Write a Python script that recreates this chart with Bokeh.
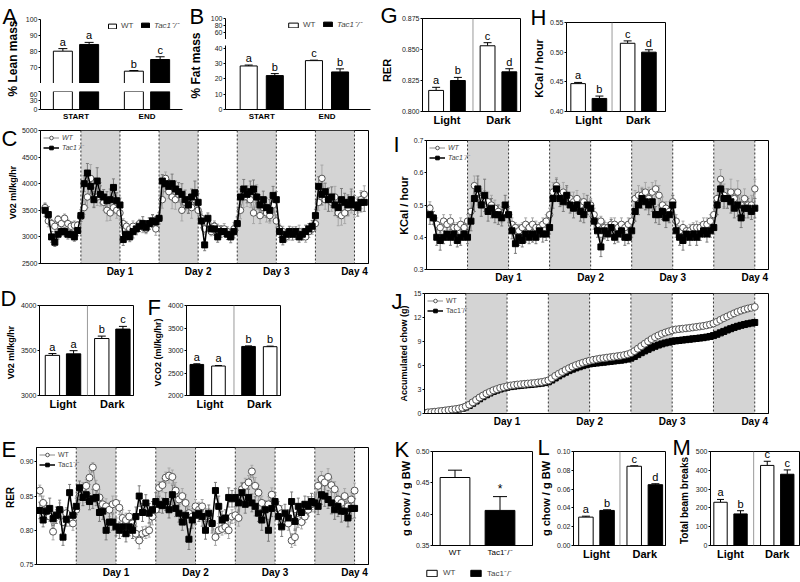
import math
from bokeh.plotting import figure
from bokeh.models import (Range1d, FixedTicker, PrintfTickFormatter, Whisker, TeeHead,
                          ColumnDataSource, Label, Span, BoxAnnotation, Legend, LegendItem, Spacer)
from bokeh.layouts import row, column
from bokeh.embed import file_html
from bokeh.resources import INLINE
from bokeh.core.properties import value

FONT = "Liberation Sans"
TAC = "Tac1\u207b/\u207b"

# ---------------- data ----------------
ab_groups = ["START", "END"]
A_wt = [80.2, 67.7]; A_wt_err = [1.6, 0.4]; A_wt_sig = ["a", "b"]
A_tac = [84.4, 75.0]; A_tac_err = [1.3, 1.7]; A_tac_sig = ["a", "c"]
B_wt = [28.5, 32.0]; B_wt_err = [0.6, 0.3]; B_wt_sig = ["a", "c"]
B_tac = [22.2, 24.6]; B_tac_err = [1.3, 2.0]; B_tac_sig = ["b", "b"]

ld_groups = ["Light", "Dark"]
G_wt = [0.817, 0.853]; G_wt_err = [0.0025, 0.0025]; G_wt_sig = ["a", "c"]
G_tac = [0.825, 0.832]; G_tac_err = [0.0025, 0.0025]; G_tac_sig = ["b", "d"]
H_wt = [0.447, 0.515]; H_wt_err = [0.002, 0.004]; H_wt_sig = ["a", "c"]
H_tac = [0.422, 0.500]; H_tac_err = [0.004, 0.004]; H_tac_sig = ["b", "d"]
D_wt = [3446, 3633]; D_wt_err = [20, 27]; D_wt_sig = ["a", "b"]
D_tac = [3463, 3738]; D_tac_err = [35, 30]; D_tac_sig = ["a", "c"]
F_black = [2690, 3090]; F_black_err = [15, 12]; F_black_sig = ["a", "b"]
F_white = [2655, 3085]; F_white_err = [12, 12]; F_white_sig = ["a", "b"]
K_groups = ["WT", TAC]
K_vals = [0.4585, 0.4060]; K_err = [0.0117, 0.022]; K_sig = ["", "*"]
L_wt = [0.0302, 0.0843]; L_wt_err = [0.001, 0.0005]; L_wt_sig = ["a", "c"]
L_tac = [0.0373, 0.0647]; L_tac_err = [0.0007, 0.001]; L_tac_sig = ["b", "d"]
M_wt = [230, 426]; M_wt_err = [15, 22]; M_wt_sig = ["a", "c"]
M_tac = [168, 379]; M_tac_err = [17, 23]; M_tac_sig = ["b", "c"]

dark_start = [12, 36, 60, 84]
dark_end = [24, 48, 72, 96]
day_ticks = [24, 48, 72, 96]
day_labels = ["Day 1", "Day 2", "Day 3", "Day 4"]

C_hours = list(range(1, 100))
C_wt = [
 3550, 3300, 3250, 3200, 3330, 3250, 3350, 3250, 3200, 3220, 3220, 3380,
 3550, 3750, 4100, 3750, 3750, 3800, 3650, 3500, 3450, 3550, 3500, 3450,
 3250, 3200, 3150, 3200, 3150, 3250, 3200, 3150, 3250, 3300, 3150, 3350,
 3700, 4100, 3850, 3750, 3700, 3800, 3500, 3650, 3600, 3550, 3700, 3500,
 3350, 3150, 3250, 3100, 3200, 3150, 3100, 3150, 3100, 3050, 3150, 3250,
 3500, 3750, 3750, 3700, 3450, 3750, 3400, 3550, 3450, 3400, 3600, 3300,
 3150, 3100, 3000, 3050, 3100, 3050, 3100, 3050, 3000, 3100, 3150, 3250,
 3650, 4100, 3700, 3700, 3650, 3750, 3450, 3400, 3450, 3550, 3650, 3550,
 3600, 3700, 3800]
C_wt_err = [
 90, 110, 80, 100, 70, 90, 80, 70, 90, 80, 70, 90,
 130, 200, 260, 180, 160, 220, 150, 200, 140, 120, 150, 130,
 90, 80, 70, 100, 90, 80, 120, 90, 100, 110, 120, 100,
 160, 120, 130, 220, 180, 150, 200, 160, 140, 200, 150, 170,
 120, 100, 90, 80, 100, 90, 110, 100, 90, 100, 120, 110,
 160, 200, 180, 150, 200, 230, 150, 180, 170, 140, 200, 120,
 90, 100, 80, 110, 90, 100, 120, 90, 100, 110, 100, 120,
 150, 250, 180, 220, 170, 200, 240, 180, 200, 160, 200, 180,
 150, 170, 160]
C_tac = [
 3500, 3420, 3000, 2900, 3050, 3100, 3100, 3050, 3050, 3000, 3120, 3400,
 4000, 4200, 3950, 3700, 4050, 3800, 3750, 3680, 3700, 3930, 3680, 3600,
 2950, 3050, 3000, 3100, 3150, 3200, 3250, 3180, 3250, 3300, 3280, 3350,
 4050, 4000, 3950, 4000, 3900, 3850, 3800, 3700, 3600, 3750, 3830, 3650,
 3300, 2850, 3350, 3150, 3150, 3000, 3100, 3100, 3050, 3000, 3100, 3250,
 3750, 3900, 3800, 3850, 3900, 3750, 3600, 3700, 3550, 3500, 3780, 3700,
 3100, 2950, 3050, 3100, 3050, 3100, 3000, 3050, 3100, 3150, 3200, 3400,
 3950, 3800, 3850, 3700, 3750, 3600, 3550, 3700, 3650, 3600, 3700, 3600,
 3550, 3650, 3650]
C_tac_err = [
 120, 150, 100, 80, 90, 70, 80, 90, 70, 80, 100, 110,
 150, 180, 140, 150, 250, 160, 140, 170, 200, 160, 150, 130,
 110, 100, 90, 120, 110, 100, 130, 100, 110, 120, 100, 110,
 120, 150, 130, 180, 150, 170, 200, 180, 160, 150, 220, 160,
 130, 110, 100, 90, 120, 100, 110, 90, 100, 110, 120, 130,
 150, 180, 160, 200, 170, 190, 150, 160, 180, 200, 170, 150,
 110, 100, 90, 100, 110, 90, 100, 110, 120, 100, 110, 120,
 180, 200, 160, 220, 190, 200, 180, 210, 170, 190, 200, 180,
 160, 180, 170]

I_hours = list(range(1, 97))
I_wt = [
 0.49, 0.46, 0.44, 0.43, 0.45, 0.44, 0.45, 0.43, 0.43, 0.44, 0.43, 0.45,
 0.48, 0.56, 0.54, 0.52, 0.52, 0.51, 0.50, 0.49, 0.48, 0.47, 0.48, 0.47,
 0.44, 0.43, 0.42, 0.43, 0.44, 0.43, 0.44, 0.43, 0.43, 0.44, 0.45, 0.47,
 0.54, 0.56, 0.53, 0.54, 0.53, 0.52, 0.51, 0.52, 0.50, 0.51, 0.49, 0.50,
 0.47, 0.44, 0.45, 0.43, 0.43, 0.44, 0.44, 0.43, 0.44, 0.43, 0.44, 0.45,
 0.52, 0.53, 0.53, 0.54, 0.52, 0.54, 0.55, 0.53, 0.50, 0.49, 0.48, 0.51,
 0.45, 0.42, 0.43, 0.42, 0.42, 0.43, 0.43, 0.43, 0.44, 0.44, 0.45, 0.47,
 0.52, 0.58, 0.53, 0.52, 0.54, 0.52, 0.54, 0.50, 0.52, 0.50, 0.50, 0.55]
I_wt_err = [
 0.02, 0.02, 0.02, 0.015, 0.02, 0.015, 0.02, 0.015, 0.015, 0.02, 0.015, 0.02,
 0.03, 0.03, 0.04, 0.03, 0.025, 0.03, 0.03, 0.025, 0.02, 0.025, 0.02, 0.02,
 0.02, 0.015, 0.02, 0.015, 0.02, 0.015, 0.02, 0.02, 0.015, 0.02, 0.02, 0.02,
 0.03, 0.025, 0.025, 0.03, 0.025, 0.02, 0.03, 0.025, 0.02, 0.025, 0.02, 0.02,
 0.02, 0.02, 0.015, 0.02, 0.015, 0.02, 0.02, 0.015, 0.02, 0.015, 0.02, 0.02,
 0.025, 0.03, 0.025, 0.03, 0.035, 0.03, 0.025, 0.03, 0.025, 0.02, 0.03, 0.02,
 0.02, 0.015, 0.02, 0.015, 0.02, 0.015, 0.02, 0.015, 0.02, 0.02, 0.02, 0.02,
 0.03, 0.03, 0.035, 0.03, 0.04, 0.03, 0.035, 0.03, 0.03, 0.025, 0.03, 0.03]
I_tac = [
 0.47, 0.46, 0.40, 0.39, 0.40, 0.41, 0.40, 0.41, 0.39, 0.40, 0.41, 0.40,
 0.45, 0.52, 0.55, 0.50, 0.53, 0.48, 0.49, 0.47, 0.47, 0.46, 0.50, 0.47,
 0.42, 0.38, 0.40, 0.39, 0.41, 0.40, 0.41, 0.40, 0.42, 0.41, 0.41, 0.43,
 0.52, 0.55, 0.52, 0.51, 0.53, 0.50, 0.49, 0.50, 0.48, 0.47, 0.50, 0.49,
 0.45, 0.42, 0.37, 0.42, 0.41, 0.43, 0.40, 0.41, 0.42, 0.40, 0.40, 0.42,
 0.48, 0.50, 0.52, 0.51, 0.50, 0.51, 0.47, 0.47, 0.48, 0.46, 0.47, 0.50,
 0.42, 0.40, 0.39, 0.41, 0.40, 0.41, 0.40, 0.41, 0.42, 0.41, 0.42, 0.43,
 0.50, 0.55, 0.52, 0.52, 0.51, 0.49, 0.50, 0.46, 0.49, 0.49, 0.48, 0.49]
I_tac_err = [
 0.03, 0.02, 0.025, 0.03, 0.02, 0.02, 0.025, 0.02, 0.02, 0.025, 0.02, 0.02,
 0.03, 0.04, 0.04, 0.035, 0.05, 0.03, 0.03, 0.025, 0.03, 0.025, 0.03, 0.025,
 0.025, 0.03, 0.025, 0.02, 0.025, 0.02, 0.025, 0.02, 0.02, 0.025, 0.02, 0.02,
 0.03, 0.03, 0.025, 0.03, 0.03, 0.025, 0.03, 0.025, 0.03, 0.025, 0.03, 0.025,
 0.025, 0.02, 0.03, 0.025, 0.02, 0.025, 0.02, 0.025, 0.02, 0.025, 0.02, 0.02,
 0.03, 0.03, 0.03, 0.025, 0.03, 0.03, 0.025, 0.03, 0.025, 0.03, 0.025, 0.03,
 0.02, 0.025, 0.03, 0.02, 0.025, 0.02, 0.025, 0.02, 0.02, 0.025, 0.02, 0.02,
 0.03, 0.035, 0.03, 0.03, 0.035, 0.03, 0.035, 0.03, 0.03, 0.03, 0.025, 0.03]

E_hours = list(range(1, 97))
E_wt = [
 0.858, 0.840, 0.828, 0.820, 0.798, 0.822, 0.830, 0.812, 0.825, 0.815, 0.810, 0.830,
 0.850, 0.862, 0.865, 0.877, 0.892, 0.863, 0.848, 0.838, 0.835, 0.830, 0.838, 0.840,
 0.833, 0.818, 0.815, 0.820, 0.810, 0.795, 0.785, 0.795, 0.797, 0.800, 0.820, 0.830,
 0.862, 0.866, 0.877, 0.880, 0.878, 0.858, 0.845, 0.850, 0.840, 0.825, 0.820, 0.835,
 0.830, 0.835, 0.820, 0.822, 0.810, 0.790, 0.800, 0.802, 0.805, 0.800, 0.820, 0.822,
 0.818, 0.860, 0.865, 0.870, 0.886, 0.865, 0.855, 0.840, 0.830, 0.838, 0.852, 0.840,
 0.832, 0.825, 0.818, 0.810, 0.785, 0.790, 0.815, 0.812, 0.820, 0.830, 0.838, 0.840,
 0.865, 0.875, 0.870, 0.878, 0.866, 0.860, 0.845, 0.840, 0.850, 0.835, 0.845, 0.858]
E_wt_err = [
 0.008, 0.010, 0.008, 0.007, 0.012, 0.008, 0.010, 0.012, 0.008, 0.009, 0.010, 0.008,
 0.010, 0.008, 0.009, 0.010, 0.007, 0.010, 0.012, 0.010, 0.011, 0.010, 0.012, 0.010,
 0.010, 0.012, 0.010, 0.009, 0.011, 0.010, 0.012, 0.010, 0.009, 0.010, 0.012, 0.011,
 0.009, 0.010, 0.008, 0.011, 0.010, 0.012, 0.010, 0.011, 0.012, 0.010, 0.012, 0.010,
 0.011, 0.010, 0.012, 0.010, 0.011, 0.012, 0.010, 0.009, 0.010, 0.012, 0.010, 0.011,
 0.012, 0.010, 0.011, 0.010, 0.009, 0.012, 0.011, 0.010, 0.012, 0.011, 0.010, 0.011,
 0.010, 0.011, 0.012, 0.010, 0.010, 0.012, 0.011, 0.010, 0.009, 0.010, 0.011, 0.010,
 0.010, 0.011, 0.010, 0.012, 0.010, 0.011, 0.012, 0.010, 0.011, 0.012, 0.010, 0.011]
E_tac = [
 0.829, 0.815, 0.828, 0.832, 0.817, 0.822, 0.830, 0.790, 0.816, 0.855, 0.822, 0.835,
 0.862, 0.848, 0.852, 0.842, 0.846, 0.848, 0.826, 0.828, 0.800, 0.812, 0.812, 0.805,
 0.800, 0.805, 0.795, 0.805, 0.800, 0.820, 0.850, 0.826, 0.840, 0.825, 0.830, 0.842,
 0.838, 0.836, 0.842, 0.830, 0.852, 0.832, 0.825, 0.812, 0.822, 0.787, 0.815, 0.822,
 0.825, 0.820, 0.800, 0.825, 0.810, 0.858, 0.835, 0.815, 0.818, 0.848, 0.846, 0.848,
 0.840, 0.855, 0.838, 0.848, 0.840, 0.835, 0.825, 0.815, 0.830, 0.800, 0.832, 0.842,
 0.820, 0.805, 0.825, 0.818, 0.842, 0.813, 0.835, 0.826, 0.838, 0.835, 0.842, 0.840,
 0.835, 0.852, 0.850, 0.845, 0.840, 0.830, 0.835, 0.828, 0.828, 0.818, 0.832, 0.832]
E_tac_err = [
 0.012, 0.010, 0.012, 0.015, 0.010, 0.012, 0.014, 0.012, 0.010, 0.012, 0.011, 0.012,
 0.010, 0.012, 0.011, 0.012, 0.014, 0.012, 0.013, 0.012, 0.014, 0.015, 0.012, 0.013,
 0.012, 0.014, 0.012, 0.013, 0.012, 0.014, 0.015, 0.013, 0.012, 0.014, 0.012, 0.013,
 0.012, 0.011, 0.013, 0.012, 0.014, 0.012, 0.013, 0.012, 0.014, 0.015, 0.012, 0.013,
 0.012, 0.014, 0.013, 0.012, 0.014, 0.012, 0.015, 0.013, 0.012, 0.014, 0.012, 0.013,
 0.012, 0.014, 0.013, 0.012, 0.013, 0.014, 0.012, 0.015, 0.013, 0.016, 0.012, 0.013,
 0.012, 0.014, 0.013, 0.012, 0.014, 0.013, 0.012, 0.013, 0.012, 0.014, 0.012, 0.013,
 0.012, 0.014, 0.015, 0.013, 0.016, 0.014, 0.015, 0.016, 0.014, 0.013, 0.015, 0.014]

J_hours = list(range(0, 97))
J_wt = [
 0.10, 0.14, 0.18, 0.22, 0.27, 0.32, 0.38, 0.44, 0.50, 0.56, 0.62, 0.72, 0.88,
 1.10, 1.40, 1.70, 2.00, 2.25, 2.50, 2.70, 2.90, 3.05, 3.20, 3.30, 3.40,
 3.50, 3.56, 3.62, 3.66, 3.70, 3.74, 3.78, 3.82, 3.88, 3.94, 4.02, 4.14,
 4.40, 4.70, 4.96, 5.20, 5.44, 5.66, 5.86, 6.04, 6.20, 6.34, 6.48, 6.60,
 6.70, 6.78, 6.86, 6.92, 6.98, 7.04, 7.10, 7.16, 7.22, 7.30, 7.40, 7.55,
 7.80, 8.10, 8.42, 8.72, 9.02, 9.30, 9.55, 9.76, 9.96, 10.12, 10.26, 10.40,
 10.50, 10.55, 10.60, 10.65, 10.70, 10.76, 10.82, 10.88, 10.94, 11.02, 11.12, 11.26,
 11.46, 11.70, 11.92, 12.12, 12.32, 12.52, 12.70, 12.86, 13.00, 13.12, 13.22, 13.32]
J_tac = [
 0.05, 0.09, 0.13, 0.17, 0.22, 0.27, 0.32, 0.38, 0.44, 0.50, 0.56, 0.66, 0.80,
 1.00, 1.28, 1.56, 1.84, 2.10, 2.34, 2.56, 2.76, 2.92, 3.06, 3.18, 3.28,
 3.36, 3.42, 3.47, 3.52, 3.56, 3.60, 3.64, 3.68, 3.73, 3.79, 3.86, 3.96,
 4.18, 4.44, 4.70, 4.94, 5.16, 5.36, 5.54, 5.70, 5.84, 5.98, 6.10, 6.20,
 6.26, 6.31, 6.36, 6.41, 6.46, 6.51, 6.56, 6.61, 6.66, 6.72, 6.80, 6.92,
 7.12, 7.36, 7.60, 7.82, 8.02, 8.22, 8.40, 8.56, 8.70, 8.82, 8.92, 9.02,
 9.08, 9.13, 9.18, 9.23, 9.28, 9.33, 9.38, 9.43, 9.48, 9.55, 9.63, 9.74,
 9.90, 10.08, 10.26, 10.44, 10.60, 10.76, 10.90, 11.02, 11.12, 11.22, 11.30, 11.38]


# ---------------- helpers ----------------
def mkfig(w, h, bl, br, bt, bb, xr, yr, xaxis=True, yaxis=True, outline=True):
    p = figure(width=w, height=h, x_range=Range1d(*xr), y_range=Range1d(*yr),
               output_backend="svg", toolbar_location=None,
               x_axis_location=("below" if xaxis else None),
               y_axis_location=("left" if yaxis else None),
               min_border_left=bl, min_border_right=br,
               min_border_top=bt, min_border_bottom=bb)
    p.grid.visible = False
    p.outline_line_color = "black" if outline else None
    p.outline_line_width = 1
    p.background_fill_color = "white"
    p.border_fill_color = "white"
    for ax in p.axis:
        ax.axis_line_color = "black"
        ax.major_tick_line_color = "black"
        ax.minor_tick_line_color = None
        ax.major_tick_in = 0
        ax.major_tick_out = 2
        ax.major_label_text_font = FONT
        ax.major_label_text_font_size = "7px"
        ax.major_label_text_color = "#222222"
        ax.major_label_standoff = 1
    return p


def box(p):
    """Own container for every canvas, so that sibling plots keep their own frames."""
    return column(p, width=p.width, height=p.height)


def blank(w, h, xr=(0, 1), yr=(0, 1)):
    p = figure(width=w, height=h, x_range=Range1d(*xr), y_range=Range1d(*yr),
               output_backend="svg", toolbar_location=None,
               x_axis_location=None, y_axis_location=None, min_border=0)
    p.grid.visible = False
    p.outline_line_color = None
    return p


def strip(w, h, letter, lx, ly, ylabel, ylx, yly, ysize, lsize="22px"):
    """Narrow canvas holding a panel letter and the rotated y-axis title."""
    p = blank(w, h)
    p.add_layout(Label(x=lx, y=ly, x_units="screen", y_units="screen", text=letter,
                       text_font=FONT, text_font_size=lsize, text_baseline="top",
                       text_align="left", text_color="black"))
    p.add_layout(Label(x=ylx, y=yly, x_units="screen", y_units="screen", text=ylabel,
                       angle=math.pi / 2, text_align="center", text_baseline="middle",
                       text_font=FONT, text_font_style="bold", text_font_size=ysize,
                       text_color="black"))
    return box(p)


def yax(p, ticks, fmt=None):
    p.yaxis.ticker = FixedTicker(ticks=ticks)
    if fmt:
        p.yaxis.formatter = PrintfTickFormatter(format=fmt)


def xcat(p, ticks, labels, size="11px", bold=True):
    p.xaxis.ticker = FixedTicker(ticks=ticks)
    p.xaxis.major_label_overrides = dict(zip(ticks, labels))
    p.xaxis.major_label_text_font_size = size
    p.xaxis.major_label_text_font_style = "bold" if bold else "normal"
    p.xaxis.major_label_text_color = "black"
    p.xaxis.major_tick_line_color = None
    p.xaxis.major_tick_out = 0
    p.xaxis.major_label_standoff = 2


def bars(p, xs, tops, errs, sigs, fill, bottom, width, cap, sig_size="11px"):
    data = dict(x=xs, top=tops)
    if errs is not None:
        data["up"] = [t + e for t, e in zip(tops, errs)]
    if sigs is not None:
        data["sig"] = sigs
    src = ColumnDataSource(data)
    r = p.vbar(x="x", top="top", bottom=bottom, width=width, source=src,
               fill_color=fill, line_color="black", line_width=1)
    if errs is not None:
        p.add_layout(Whisker(source=src, base="x", lower="top", upper="up", dimension="height",
                             line_color="black", line_width=1,
                             upper_head=TeeHead(size=cap, line_color="black", line_width=1),
                             lower_head=None))
    if sigs is not None:
        p.text(x="x", y="up", text="sig", source=src, text_align="center",
               text_baseline="bottom", y_offset=-1, text_font=value(FONT),
               text_font_size=sig_size, text_color="black")
    return r


def pair(centers, off):
    return [c - off for c in centers], [c + off for c in centers]


def sep(p, loc):
    p.add_layout(Span(location=loc, dimension="height", line_color="#9a9a9a", line_width=1))


def small_legend(p, label, r, loc, italic=False, gw=10, gh=6, size="8px"):
    p.add_layout(Legend(items=[LegendItem(label=label, renderers=[r])], location=loc,
                        orientation="horizontal", glyph_width=gw, glyph_height=gh,
                        label_text_font=FONT, label_text_font_size=size,
                        label_text_font_style=("italic" if italic else "normal"),
                        label_height=8, label_standoff=4, padding=0, margin=0, spacing=0,
                        border_line_color=None, background_fill_alpha=0))


def ts_setup(p):
    for s, e in zip(dark_start, dark_end):
        p.add_layout(BoxAnnotation(left=s, right=e, fill_color="#d4d4d4", fill_alpha=1,
                                   line_color=None, level="underlay"))
        for loc in (s, e):
            p.add_layout(Span(location=loc, dimension="height", line_color="#333333",
                              line_dash="2 2", line_width=1, level="underlay"))
    p.xaxis.ticker = FixedTicker(ticks=day_ticks)
    p.xaxis.major_label_overrides = dict(zip(day_ticks, day_labels))
    p.xaxis.major_label_text_font_size = "10px"
    p.xaxis.major_label_text_font_style = "bold"
    p.xaxis.major_label_text_color = "black"
    p.xaxis.major_tick_line_color = None
    p.xaxis.major_tick_out = 0
    p.xaxis.major_label_standoff = 2


def ts_series(p, hours, wt, wt_err, tac, tac_err, wsize, tsize, style, tac_first=False):
    data = dict(x=hours, wt=wt, tac=tac)
    if wt_err is not None:
        data["wlo"] = [v - e for v, e in zip(wt, wt_err)]
        data["whi"] = [v + e for v, e in zip(wt, wt_err)]
        data["tlo"] = [v - e for v, e in zip(tac, tac_err)]
        data["thi"] = [v + e for v, e in zip(tac, tac_err)]
    src = ColumnDataSource(data)
    if wt_err is not None:
        for lo, hi, col in (("wlo", "whi", "#a8a8a8"), ("tlo", "thi", "#7a7a7a")):
            p.add_layout(Whisker(source=src, base="x", lower=lo, upper=hi, dimension="height",
                                 line_color=col, line_width=1,
                                 upper_head=TeeHead(size=3, line_color=col, line_width=1),
                                 lower_head=TeeHead(size=3, line_color=col, line_width=1)))

    def draw_wt():
        l = p.line("x", "wt", source=src, line_color="#8a8a8a", line_width=1)
        s = p.scatter("x", "wt", source=src, marker="circle", size=wsize,
                      fill_color="white", line_color="#555555", line_width=1)
        return l, s

    def draw_tac():
        l = p.line("x", "tac", source=src, line_color="black", line_width=1.5)
        s = p.scatter("x", "tac", source=src, marker="square", size=tsize,
                      fill_color="black", line_color="black")
        return l, s

    if tac_first:
        tl, tsc = draw_tac(); wl, wsc = draw_wt()
    else:
        wl, wsc = draw_wt(); tl, tsc = draw_tac()
    p.add_layout(Legend(items=[LegendItem(label="WT", renderers=[wl, wsc]),
                               LegendItem(label=TAC, renderers=[tl, tsc])],
                        location="top_left", glyph_width=16, glyph_height=9,
                        label_text_font=FONT, label_text_font_size="7px",
                        label_text_font_style=style, label_height=9, label_standoff=3,
                        padding=1, margin=3, spacing=1,
                        border_line_color=None, background_fill_alpha=0))


# ================= LEFT COLUMN =================
R1 = 123
A_brk = 60
stripA = strip(22, R1, "A", 2, R1 - 3, "% Lean mass", 12, R1 - 58, "12px")
A_up = mkfig(166, 83, 18, 6, 19, 0, (0, 40), (A_brk, 100), xaxis=False, outline=False)
A_lo = mkfig(166, R1 - 91, 18, 6, 0, R1 - 112, (0, 40), (0, A_brk), outline=False)
yax(A_up, [70, 80, 90, 100])
yax(A_lo, [0, 30, 60])
xcat(A_lo, [10, 30], ab_groups, size="8px")
ax_w, ax_t = pair([10, 30], 3.7)
rA_wt = bars(A_up, ax_w, A_wt, A_wt_err, A_wt_sig, "white", A_brk, 5.35, 9)
rA_tac = bars(A_up, ax_t, A_tac, A_tac_err, A_tac_sig, "black", A_brk, 5.35, 9)
bars(A_lo, ax_w, [min(v, A_brk) for v in A_wt], None, None, "white", 0, 5.35, 9)
bars(A_lo, ax_t, [min(v, A_brk) for v in A_tac], None, None, "black", 0, 5.35, 9)
small_legend(A_up, "WT", rA_wt, (67, 53))
small_legend(A_up, TAC, rA_tac, (100, 53), italic=True)
colA = column(box(A_up), Spacer(width=166, height=8), box(A_lo), width=166, height=R1)

B_brk = 41.9
stripB = strip(18, R1, "B", 1, R1 - 3, "% Fat mass", 7, R1 - 65, "12px")
B_up = mkfig(172, 39, 19, 8, 18, 0, (0, 40), (40, 100), xaxis=False, outline=False)
B_lo = mkfig(172, R1 - 45, 19, 8, 0, R1 - 112, (0, 40), (0, B_brk), outline=False)
yax(B_up, [60, 80, 100])
yax(B_lo, [0, 10, 20, 30, 40])
xcat(B_lo, [10, 28], ab_groups, size="8px")
bx_w, bx_t = pair([10, 28], 3.6)
bars(B_lo, bx_w, B_wt, B_wt_err, B_wt_sig, "white", 0, 4.7, 8)
bars(B_lo, bx_t, B_tac, B_tac_err, B_tac_sig, "black", 0, 4.7, 8)
# same bars on the upper axis segment (they lie below its range; only the legend shows)
rB_wt = bars(B_up, bx_w, B_wt, None, None, "white", 0, 4.7, 8)
rB_tac = bars(B_up, bx_t, B_tac, None, None, "black", 0, 4.7, 8)
small_legend(B_up, "WT", rB_wt, (62, 10), gw=12)
small_legend(B_up, TAC, rB_tac, (97, 10), italic=True, gw=11)
colB = column(box(B_up), Spacer(width=172, height=6), box(B_lo), width=172, height=R1)

rowAB = row(stripA, colA, stripB, colB, width=378, height=R1)

HC = 283 - R1
stripC = strip(18, HC, "C", 1, HC - 2, "V02 ml/kg/hr", 12, HC - (192 - R1), "9px")
C = mkfig(360, HC, 18, 10, 130 - R1, 20, (-0.4, 100.3), (2500, 5000))
ts_setup(C)
yax(C, [2500, 3000, 3500, 4000, 4500, 5000])
ts_series(C, C_hours, C_wt, C_wt_err, C_tac, C_tac_err, 6.5, 6, "italic")
rowC = row(stripC, box(C), width=378, height=HC)

HD = 137
stripD = strip(17, HD, "D", 0, HD - 2, "V02 ml/kg/hr", 10, HD - 69, "9px")
D = mkfig(123, HD, 18, 7, 22, 25, (0, 40), (3000, 4000))
yax(D, [3000, 3500, 4000])
xcat(D, [10, 31], ld_groups)
sep(D, 20.4)
dx_w, dx_t = pair([10, 31], 4.5)
bars(D, dx_w, D_wt, D_wt_err, D_wt_sig, "white", 3000, 6.1, 8)
bars(D, dx_t, D_tac, D_tac_err, D_tac_sig, "black", 3000, 6.1, 8)

stripF = strip(24, HD, "F", 7, HD - 11, "VCO2 (ml/kg/hr)", 17, HD - 69, "9px")
F = mkfig(214, HD, 19, 98, 22, 25, (0, 40), (2000, 4000))
yax(F, [2000, 2500, 3000, 3500, 4000])
xcat(F, [10, 31], ld_groups)
sep(F, 20.2)
fx_b, fx_w = pair([9, 31], 4.6)
bars(F, fx_b, F_black, F_black_err, F_black_sig, "black", 2000, 5.8, 7)
bars(F, fx_w, F_white, F_white_err, F_white_sig, "white", 2000, 5.8, 7)
rowDF = row(stripD, box(D), stripF, box(F), width=378, height=HD)

HE = 160
stripE = strip(16, HE, "E", 1, HE - 16, "RER", 9.5, HE - 77, "10px")
E = mkfig(362, HE, 17, 10, 27, 12, (0, 100.2), (0.75, 0.921))
ts_setup(E)
yax(E, [0.75, 0.80, 0.85, 0.90], fmt="%.2f")
ts_series(E, E_hours, E_wt, E_wt_err, E_tac, E_tac_err, 7, 6, "normal")
rowE = row(stripE, box(E), width=378, height=HE)

left = column(rowAB, rowC, rowDF, rowE, width=378, height=R1 + HC + HD + HE)

# ================= RIGHT COLUMN =================
HG = 128
stripG = strip(20, HG, "G", 2, HG - 2, "RER", 8, HG - 70, "11px")
G = mkfig(132, HG, 23, 10, 18, 13, (0, 40), (0.8, 0.875))
yax(G, [0.800, 0.825, 0.850, 0.875], fmt="%.3f")
xcat(G, [10, 31], ld_groups)
sep(G, 20.6)
gx_w, gx_t = pair([10, 31], 4.44)
bars(G, gx_w, G_wt, G_wt_err, G_wt_sig, "white", 0.8, 6.06, 8)
bars(G, gx_t, G_tac, G_tac_err, G_tac_sig, "black", 0.8, 6.06, 8)

stripH = strip(16, HG, "H", 0, HG - 4, "KCal / hour", 8, HG - 68, "11px")
H = mkfig(254, HG, 17, 135, 22, 11, (0, 40), (0.40, 0.55))
yax(H, [0.40, 0.45, 0.50, 0.55], fmt="%.2f")
xcat(H, [9, 29], ld_groups)
sep(H, 18.4)
hx_w, hx_t = pair([9, 29], 4.3)
bars(H, hx_w, H_wt, H_wt_err, H_wt_sig, "white", 0.40, 5.9, 8)
bars(H, hx_t, H_tac, H_tac_err, H_tac_sig, "black", 0.40, 5.9, 8)
rowGH = row(stripG, box(G), stripH, box(H), width=422, height=HG)

HI = 157
stripI = strip(32, HI, "I", 15, HI - 3, "KCal / hour", 25, HI - 77, "11px")
I = mkfig(390, HI, 13, 32, 12, 15, (0, 100), (0.3, 0.7))
ts_setup(I)
yax(I, [0.3, 0.4, 0.5, 0.6, 0.7], fmt="%.1f")
ts_series(I, I_hours, I_wt, I_wt_err, I_tac, I_tac_err, 6.5, 6, "italic")
rowI = row(stripI, box(I), width=422, height=HI)

HJ = 145
stripJ = strip(32, HJ, "J", 13, HJ - 3, "Accumulated chow (g)", 25, HJ - 68, "9px")
J = mkfig(390, HJ, 13, 32, 8, 17, (0, 100), (0, 15))
ts_setup(J)
yax(J, [0, 3, 6, 9, 12, 15])
ts_series(J, J_hours, J_wt, None, J_tac, None, 7, 6, "normal", tac_first=True)
rowJ = row(stripJ, box(J), width=422, height=HJ)

HK = 150
HKL = 14          # height of K's legend canvas
stripK = strip(34, HK, "K", 16, HK - 6, "g chow / g BW", 27, HK - 68, "11px")
K = mkfig(125, HK - HKL, 16, 5, 21, HK - HKL - 115, (0, 40), (0.35, 0.50))
yax(K, [0.35, 0.40, 0.45, 0.50], fmt="%.2f")
xcat(K, [9, 27], K_groups, size="8px", bold=False)
bars(K, [9], K_vals[:1], K_err[:1], K_sig[:1], "white", 0.35, 11.9, 14, sig_size="12px")
bars(K, [27], K_vals[1:], K_err[1:], K_sig[1:], "black", 0.35, 11.9, 14, sig_size="12px")
# legend canvas below K: the same bars, outside its visible range, feed the legend
K_leg = blank(125, HKL, (0, 40), (10, 11))
rK_wt = bars(K_leg, [9], K_vals[:1], None, None, "white", 0.35, 11.9, 14)
rK_tac = bars(K_leg, [27], K_vals[1:], None, None, "black", 0.35, 11.9, 14)
K_leg.add_layout(Legend(items=[LegendItem(label="WT", renderers=[rK_wt]),
                               LegendItem(label=TAC, renderers=[rK_tac])],
                        location=(13, 2), orientation="horizontal", glyph_width=13, glyph_height=8,
                        label_text_font=FONT, label_text_font_size="8px", label_height=9,
                        label_standoff=5, spacing=6, padding=0, margin=0,
                        border_line_color=None, background_fill_alpha=0))
colK = column(box(K), box(K_leg), width=125, height=HK)

stripL = strip(16, HK, "L", 0, HK - 4, "g chow / g BW", 8, HK - 68, "11px")
L = mkfig(119, HK, 17, 7, 21, HK - 115, (0, 40), (0, 0.10))
yax(L, [0.00, 0.02, 0.04, 0.06, 0.08, 0.10], fmt="%.2f")
xcat(L, [10, 31], ld_groups)
sep(L, 20.2)
lx_w, lx_t = pair([10, 31], 4.6)
bars(L, lx_w, L_wt, L_wt_err, L_wt_sig, "white", 0, 6.3, 8)
bars(L, lx_t, L_tac, L_tac_err, L_tac_sig, "black", 0, 6.3, 8)

stripM = strip(20, HK, "M", 0, HK - 4, "Total beam breaks", 12, HK - 70, "10px")
M = mkfig(108, HK, 15, 1, 21, HK - 115, (0, 40), (0, 500))
yax(M, [0, 100, 200, 300, 400, 500])
xcat(M, [9, 30], ld_groups)
sep(M, 19.4)
mx_w, mx_t = pair([9, 30], 4.5)
bars(M, mx_w, M_wt, M_wt_err, M_wt_sig, "white", 0, 6, 7)
bars(M, mx_t, M_tac, M_tac_err, M_tac_sig, "black", 0, 6, 7)
rowKLM = row(stripK, colK, stripL, box(L), stripM, box(M), width=422, height=HK)

right = column(rowGH, rowI, rowJ, rowKLM, width=422, height=HG + HI + HJ + HK)

layout = row(left, right, width=800, height=580)

open("out.html", "w").write(file_html(layout, INLINE))
